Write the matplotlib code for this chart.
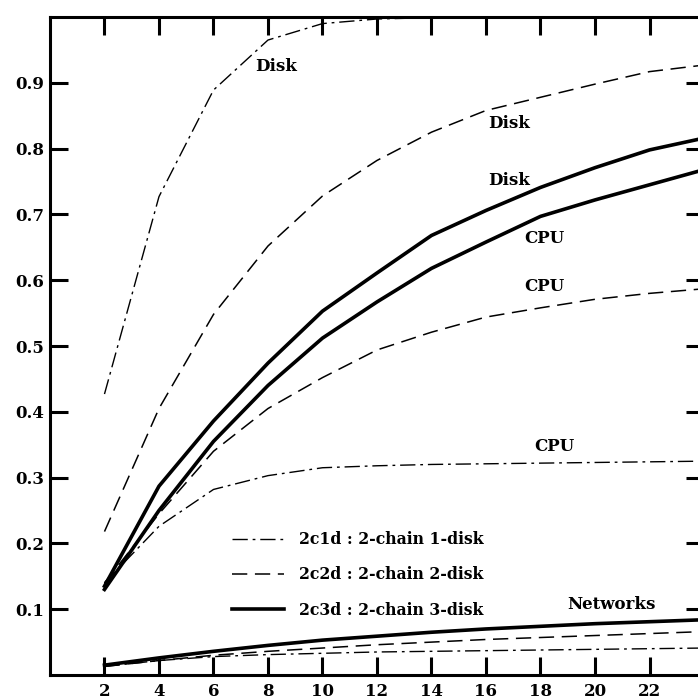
import matplotlib
matplotlib.use('Agg')
import matplotlib.pyplot as plt

# 链数 / 利用率数据 (2-chain, 1/2/3 disks)
x = [2, 4, 6, 8, 10, 12, 14, 16, 18, 20, 22, 24]

disk_2c1d = [0.427, 0.727, 0.889, 0.965, 0.990, 0.997, 0.999, 1.0, 1.0, 1.0, 1.0, 1.0]
cpu_2c1d = [0.14, 0.226, 0.282, 0.303, 0.315, 0.318, 0.320, 0.321, 0.322, 0.323, 0.324, 0.325]
net_2c1d = [0.013, 0.022, 0.028, 0.031, 0.033, 0.035, 0.036, 0.037, 0.038, 0.039, 0.040, 0.041]

disk_2c2d = [0.218, 0.405, 0.548, 0.652, 0.728, 0.782, 0.825, 0.858, 0.878, 0.898, 0.917, 0.927]
cpu_2c2d = [0.14, 0.245, 0.34, 0.405, 0.452, 0.494, 0.521, 0.544, 0.558, 0.571, 0.580, 0.587]
net_2c2d = [0.013, 0.022, 0.030, 0.036, 0.041, 0.046, 0.050, 0.054, 0.057, 0.060, 0.063, 0.066]

disk_2c3d = [0.135, 0.287, 0.386, 0.474, 0.553, 0.611, 0.668, 0.706, 0.741, 0.771, 0.798, 0.816]
cpu_2c3d = [0.13, 0.25, 0.355, 0.44, 0.512, 0.567, 0.618, 0.658, 0.697, 0.722, 0.745, 0.768]
net_2c3d = [0.015, 0.026, 0.036, 0.045, 0.053, 0.059, 0.065, 0.070, 0.074, 0.078, 0.081, 0.084]

xticks = [2, 4, 6, 8, 10, 12, 14, 16, 18, 20, 22]
yticks = [0.1, 0.2, 0.3, 0.4, 0.5, 0.6, 0.7, 0.8, 0.9]

# 曲线旁的标注
labels = ['Disk', 'Disk', 'Disk', 'CPU', 'CPU', 'CPU', 'Networks']
label_x = [8.3, 16.85, 16.85, 18.15, 18.15, 18.5, 20.6]
label_y = [0.925, 0.838, 0.752, 0.663, 0.59, 0.348, 0.107]

font = 'DejaVu Serif'

fig = plt.figure(figsize=(6.98, 7.0), dpi=100)
ax = fig.add_axes([0.0716, 0.0357, 0.937, 0.94])

dashdot = (0, (11, 3.5, 2, 3.5))
dashed = (0, (10, 5))

ax.plot(x, disk_2c1d, color='black', lw=1.0, linestyle=dashdot, label='2c1d : 2-chain 1-disk')
ax.plot(x, cpu_2c1d, color='black', lw=1.0, linestyle=dashdot)
ax.plot(x, net_2c1d, color='black', lw=1.0, linestyle=dashdot)

ax.plot(x, disk_2c2d, color='black', lw=1.1, linestyle=dashed, label='2c2d : 2-chain 2-disk')
ax.plot(x, cpu_2c2d, color='black', lw=1.1, linestyle=dashed)
ax.plot(x, net_2c2d, color='black', lw=1.1, linestyle=dashed)

ax.plot(x, disk_2c3d, color='black', lw=2.6, label='2c3d : 2-chain 3-disk')
ax.plot(x, cpu_2c3d, color='black', lw=2.6)
ax.plot(x, net_2c3d, color='black', lw=2.6)

for t, tx, ty in zip(labels, label_x, label_y):
    ax.text(tx, ty, t, ha='center', va='center', fontsize=12,
            fontweight='bold', family=font)

ax.set_xlim(0, 24)
ax.set_ylim(0, 1.0)
ax.set_xticks(xticks)
ax.set_yticks(yticks)
ax.set_xticklabels([str(v) for v in xticks])
ax.set_yticklabels([str(v) for v in yticks])
ax.tick_params(direction='in', length=13, width=2.2, top=True, right=True,
               labelsize=12, pad=6)
ax.tick_params(axis='y', pad=4)
for lab in ax.get_xticklabels() + ax.get_yticklabels():
    lab.set_fontweight('bold')
    lab.set_family(font)
for s in ax.spines.values():
    s.set_linewidth(2.2)

leg = ax.legend(loc='center left', bbox_to_anchor=(0.267, 0.152), frameon=False,
                handlelength=3.3, handletextpad=0.95, labelspacing=1.15, borderpad=0,
                prop={'family': font, 'weight': 'bold', 'size': 11.3})

fig.savefig('out.png', dpi=100)
